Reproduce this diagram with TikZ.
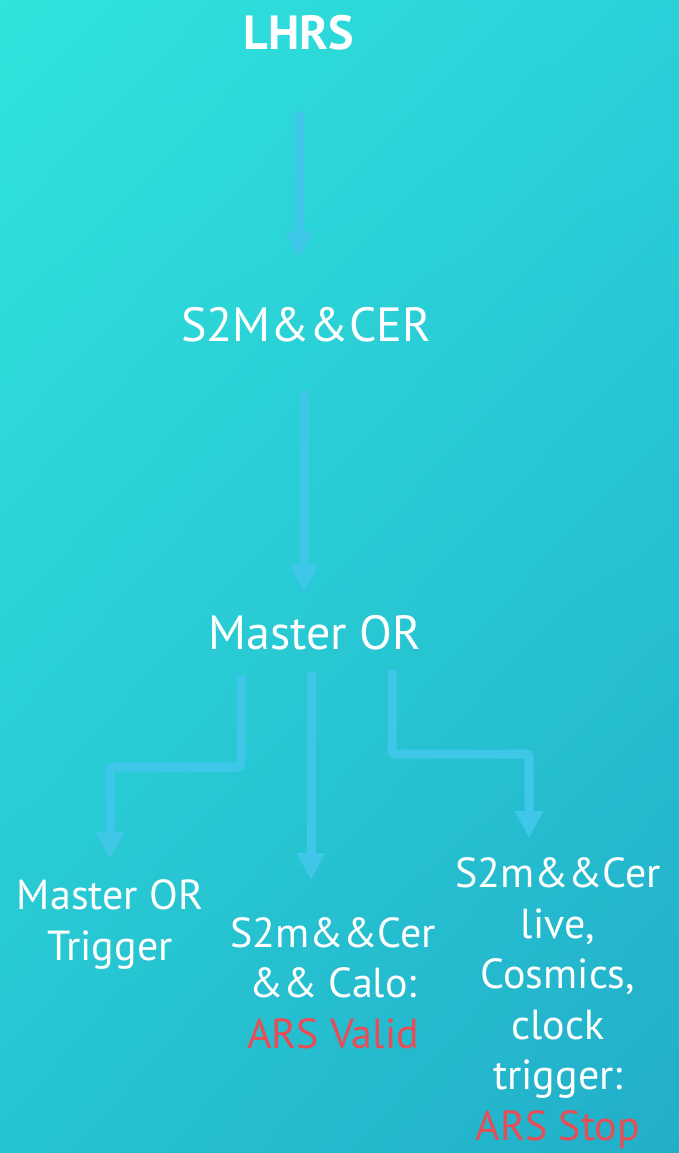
\documentclass[tikz,border=0pt]{standalone}
\usepackage{fontspec}
\setmainfont{PT Sans}
\usepackage{xcolor}
\usetikzlibrary{arrows.meta}
\usetikzlibrary{shadings}

\definecolor{bgul}{RGB}{47,228,219}
\definecolor{bgur}{RGB}{42,208,217}
\definecolor{bgll}{RGB}{38,196,210}
\definecolor{bglr}{RGB}{34,174,201}
\definecolor{flowblue}{RGB}{62,199,232}
\definecolor{arsred}{RGB}{232,77,85}

\tikzset{
  flow/.style={draw=flowblue,line width=9pt,rounded corners=3pt,
    -{Triangle[width=27pt,length=27pt]}},
  head/.style={text=white,font=\fontsize{48}{50}\selectfont,inner sep=0pt},
  leaf/.style={text=white,font=\fontsize{42}{50.5}\selectfont,inner sep=0pt,
    align=center,anchor=base}
}

\begin{document}
\begin{tikzpicture}[x=1pt,y=-1pt]
  \shade[upper left=bgul,upper right=bgur,lower left=bgll,lower right=bglr]
    (0,0) rectangle (679,1153);
  \useasboundingbox (0,0) rectangle (679,1153);

  \node (lhrs) at (299,33) [head,font=\fontsize{48}{50}\selectfont\bfseries] {LHRS};
  \node (s2m) at (306,325) [head] {S2M\&\&CER};
  \node (master) at (315,633) [head] {Master OR};

  % base = last line
  \node (trig) at (110,960) [leaf] {Master OR\\Trigger};
  \node (valid) at (333,1048) [leaf] {S2m\&\&Cer\\\&\& Calo:\\\textcolor{arsred}{ARS Valid}};
  \node (stop) at (558,1140) [leaf] {S2m\&\&Cer\\live,\\Cosmics,\\clock\\trigger:\\\textcolor{arsred}{ARS Stop}};

  % arrow ends
  \coordinate (lhrsout) at (299,112);
  \coordinate (s2min) at (299,258);
  \coordinate (s2mout) at (304,390);
  \coordinate (masterin) at (304,592);
  \coordinate (outa) at (241,675);
  \coordinate (trigin) at (110,859);
  \coordinate (outb) at (311,672);
  \coordinate (validin) at (311,880);
  \coordinate (outc) at (392,670);
  \coordinate (stopin) at (529,838);

  \draw[flow] (lhrsout) -- (s2min);
  \draw[flow] (s2mout) -- (masterin);
  \draw[flow] (outa) |- (175,767) -| (trigin);
  \draw[flow] (outb) -- (validin);
  \draw[flow] (outc) |- (460,754) -| (stopin);
\end{tikzpicture}
\end{document}
